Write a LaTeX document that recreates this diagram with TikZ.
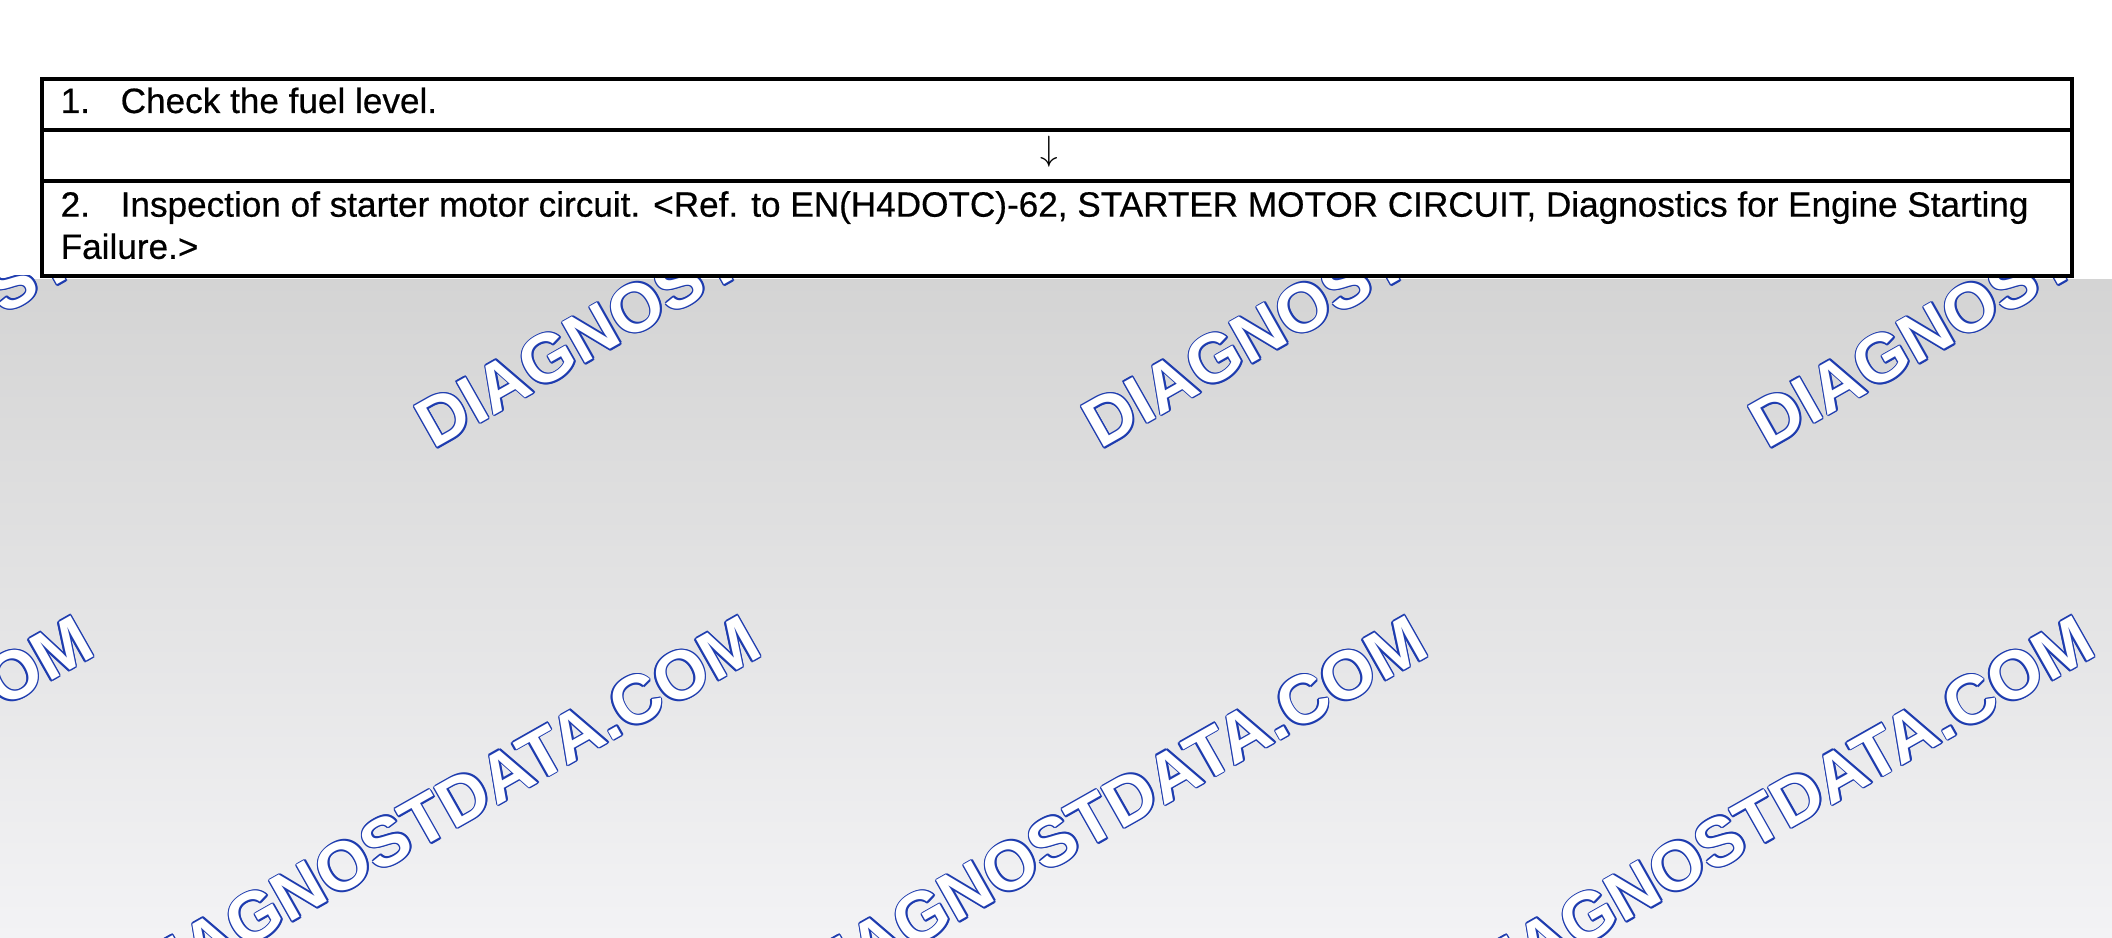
\documentclass[tikz,border=0pt]{standalone}
\usepackage{fontspec}
\setmainfont{Liberation Sans}[FakeBold=0.5]
\newfontfamily\wmfont{Liberation Sans Bold}
\usetikzlibrary{positioning}
\definecolor{wmblue}{RGB}{30,60,175}
\definecolor{bgtop}{RGB}{212,212,212}
\definecolor{bgbot}{RGB}{243,243,245}
\newcommand{\stepno}[1]{\makebox[6mm][l]{#1}}
\tikzset{
  rowbox/.style={draw, line width=0.9pt, minimum width=20.30cm, inner sep=0pt, outer sep=0pt, anchor=north},
  steptext/.style={inner sep=0pt, font=\fontsize{10}{12}\selectfont, align=left},
  wmtext/.style={anchor=base west, rotate=29.5, inner sep=0pt, font=\wmfont\fontsize{19.4}{20}\selectfont}
}
\newcommand{\wmark}[2]{%
  \foreach \a in {0,45,...,315}
    \node[wmtext, text=wmblue, shift={(\a:0.45pt)}] (#1-\a) at (#2) {DIAGNOSTDATA.COM};
  \node[wmtext, text=white] (#1) at (#2) {DIAGNOSTDATA.COM};
}

\begin{document}
\begin{tikzpicture}
\useasboundingbox[fill=white] (0,0) rectangle (21.12,9.38);
\shade[top color=bgtop, bottom color=bgbot] (0,0) rectangle (21.12,6.58);
\begin{scope}
  \clip (0,0) rectangle (21.12,6.62);
  \wmark{wmA}{-2.34,4.88}
  \wmark{wmB}{4.33,4.88}
  \wmark{wmC}{11.00,4.88}
  \wmark{wmD}{17.67,4.88}
  \wmark{wmE}{-5.27,-0.70}
  \wmark{wmF}{1.40,-0.70}
  \wmark{wmG}{8.07,-0.70}
  \wmark{wmH}{14.74,-0.70}
\end{scope}

\node[rowbox, minimum height=5.1mm] (row1) at (10.57,8.59) {};
\node[rowbox, minimum height=5.1mm, below=0pt of row1] (row2) {};
\node[rowbox, minimum height=9.5mm, below=0pt of row2] (row3) {};

\node[steptext, anchor=base west] (fuel) at ([xshift=1.8mm, yshift=-3.4mm]row1.north west) {\stepno{1.}Check the fuel level.};
\node[inner sep=0pt] (down) at ([xshift=-0.8mm, yshift=0.4mm]row2.center) {$\downarrow$};
\node[steptext, anchor=north west] (starter) at ([xshift=1.8mm, yshift=-0.95mm]row3.north west) {\stepno{2.}Inspection of starter motor circuit. <Ref. to EN(H4DOTC)-62, STARTER MOTOR CIRCUIT, Diagnostics for Engine Starting\\Failure.>};
\end{tikzpicture}
\end{document}
